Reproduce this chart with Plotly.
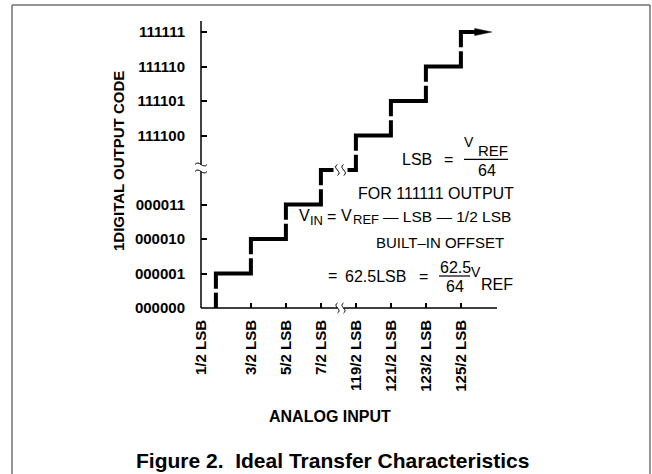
import plotly.graph_objects as go

# ---------------- data ----------------
code_values = [0, 1, 2, 3, 60, 61, 62, 63]
code_labels = ["000000", "000001", "000010", "000011",
               "111100", "111101", "111110", "111111"]
transition_lsb = [0.5, 1.5, 2.5, 3.5, 59.5, 60.5, 61.5, 62.5]
transition_labels = ["1/2 LSB", "3/2 LSB", "5/2 LSB", "7/2 LSB",
                     "119/2 LSB", "121/2 LSB", "123/2 LSB", "125/2 LSB"]

# axis break: codes/inputs between 4 and 59 are collapsed onto one step
BREAK_SKIP = 55


def disp(v):
    """value -> position on the broken display axis"""
    if v <= 4:
        return v
    if v >= 59.5:
        return v - BREAK_SKIP
    return 4


# ---------------- geometry / style ----------------
W, H = 652, 474
L_PX, R_PX, T_PX, B_PX = 201, 497, 21, 308
PW, PH = R_PX - L_PX, B_PX - T_PX
X0_PX, PX_PER_X = 198.4, 35.0
PX_PER_Y = 34.5
XR = [(L_PX - X0_PX) / PX_PER_X, (R_PX - X0_PX) / PX_PER_X]
YR = [0, PH / PX_PER_Y]
FONT = "Liberation Sans, Arial, sans-serif"
LW = 4
RISER_GAP = 0.055       # half gap in each riser (display units)
BREAK_X = 4.06          # display x of the broken step
STEP_GAP = 0.2          # half gap of horizontal at the break
ARROW_EXT = 0.88        # arrow tip beyond last transition
BREAK_Y_PX = 168


def ppx(x):
    return (x - L_PX) / PW


def ppy(y):
    return (B_PX - y) / PH


def d2px(xd):
    return (xd - XR[0]) / (XR[1] - XR[0])


def d2py(yd):
    return (yd - YR[0]) / (YR[1] - YR[0])


# ---------------- staircase ----------------
t_d = [disp(t) for t in transition_lsb]
new_codes = [int(round(t + 0.5)) for t in transition_lsb]
lv_new = [disp(c) for c in new_codes]
lv_prev = [disp(c - 1) for c in new_codes]
mids = [(a + b) / 2 for a, b in zip(lv_prev, lv_new)]

xs, ys = [], []


def add(pts):
    for p in pts:
        xs.append(p[0])
        ys.append(p[1])
    xs.append(None)
    ys.append(None)


add([(t_d[0], lv_prev[0]), (t_d[0], mids[0] - RISER_GAP)])
n = len(t_d)
for i in range(n):
    start = [(t_d[i], mids[i] + RISER_GAP), (t_d[i], lv_new[i])]
    if i < n - 1:
        if transition_lsb[i + 1] - transition_lsb[i] > 1:
            add(start + [(BREAK_X - STEP_GAP, lv_new[i])])
            add([(BREAK_X + STEP_GAP, lv_new[i]), (t_d[i + 1], lv_new[i]),
                 (t_d[i + 1], mids[i + 1] - RISER_GAP)])
        else:
            add(start + [(t_d[i + 1], lv_new[i]),
                         (t_d[i + 1], mids[i + 1] - RISER_GAP)])
    else:
        add(start + [(t_d[i] + ARROW_EXT - 0.35, lv_new[i])])

fig = go.Figure()
fig.add_trace(go.Scatter(x=xs, y=ys, mode="lines",
                         line=dict(color="black", width=LW),
                         hoverinfo="skip", showlegend=False))

# ---------------- shapes ----------------
shapes = []


def line(x0, y0, x1, y1, w=1.5, c="black"):
    shapes.append(dict(type="line", xref="paper", yref="paper",
                       x0=ppx(x0), y0=ppy(y0), x1=ppx(x1), y1=ppy(y1),
                       line=dict(color=c, width=w)))


def vsquig(a=1.6, h=5):
    k = 3.46 * a
    return f"M0,{-h} C{k:.2f},{-h/3:.2f} {-k:.2f},{h/3:.2f} 0,{h}"


def hsquig(a=1.5, w=6):
    k = 3.46 * a
    return f"M{-w},0 C{-w/3:.2f},{k:.2f} {w/3:.2f},{-k:.2f} {w},0"


def squig(path, xp, yp, w=1):
    shapes.append(dict(type="path", xref="paper", yref="paper",
                       xsizemode="pixel", ysizemode="pixel",
                       xanchor=xp, yanchor=yp, path=path,
                       line=dict(color="black", width=w)))


# frame
line(12, 5, 650, 5, 1.5, "#707070")
line(12, 5, 12, 480, 1.5, "#707070")
line(650, 5, 650, 480, 1.5, "#707070")

# y axis with break
line(L_PX, B_PX, L_PX, BREAK_Y_PX + 3.5)
line(L_PX, BREAK_Y_PX - 3.5, L_PX, T_PX)
squig(hsquig(), ppx(L_PX), ppy(BREAK_Y_PX - 3.5))
squig(hsquig(), ppx(L_PX), ppy(BREAK_Y_PX + 3.5))

# x axis with break
bx_px = X0_PX + BREAK_X * PX_PER_X
line(L_PX, B_PX, bx_px - 3, B_PX)
line(bx_px + 3, B_PX, R_PX, B_PX)
squig(vsquig(), ppx(bx_px - 3), ppy(B_PX))
squig(vsquig(), ppx(bx_px + 3), ppy(B_PX))

# squiggles on the broken step
squig(vsquig(1.8, 5.5), d2px(BREAK_X - 0.09), d2py(4))
squig(vsquig(1.8, 5.5), d2px(BREAK_X + 0.09), d2py(4))

# arrow head
shapes.append(dict(type="path", xref="paper", yref="paper",
                   xsizemode="pixel", ysizemode="pixel",
                   xanchor=d2px(t_d[-1] + ARROW_EXT), yanchor=d2py(lv_new[-1]),
                   path="M0,0 L-17,3.6 L-17,-3.6 Z",
                   fillcolor="black", line=dict(color="black", width=0.5)))

# fraction bars
line(464, 159.3, 508, 159.3, 1.2)
line(439, 276, 470, 276, 1.2)

# ---------------- annotations ----------------
ann = []


def txt(s, x, y, size=15, bold=False, xanchor="center", angle=0):
    ann.append(dict(text=s, x=ppx(x), y=ppy(y), xref="paper", yref="paper",
                    showarrow=False, xanchor=xanchor, yanchor="middle",
                    textangle=angle,
                    font=dict(size=size, color="black", family=FONT,
                              weight="bold" if bold else "normal")))


txt("1DIGITAL OUTPUT CODE", 118.5, 161.5, 15, True, angle=-90)
txt("ANALOG INPUT", 330, 416.5, 16, True)
txt("Figure 2.&nbsp; Ideal Transfer Characteristics", 332.5, 461, 21, True)

txt("LSB", 400, 159.3, 16, xanchor="left")
txt("=", 448.5, 159.3, 16)
txt("V", 468.5, 142, 14)
txt("REF", 476, 150, 15, xanchor="left")
txt("64", 486.5, 170, 16)

txt("FOR 111111 OUTPUT", 436, 194, 16)

txt("V", 304, 215.3, 16)
txt("IN", 308, 220.5, 13, xanchor="left")
txt("=", 331, 216, 16)
txt("V", 346, 215.3, 16)
txt("REF", 350.5, 219.7, 13, xanchor="left")
txt("— LSB — 1/2 LSB", 381, 216, 15.5, xanchor="left")

txt("BUILT–IN OFFSET", 439.5, 242.7, 15)

txt("=", 332.5, 275.5, 16)
txt("62.5LSB", 343, 276, 16, xanchor="left")
txt("=", 423, 276, 16)
txt("62.5", 455, 267.5, 16)
txt("64", 455, 286, 16)
txt("V", 475.5, 272, 14)
txt("REF", 479, 284, 16, xanchor="left")

# x tick positions: first label sits under the y axis in the original
x_tickvals = [XR[0]] + t_d[1:]
y_tickvals = [disp(c) for c in code_values]

fig.update_layout(
    width=W, height=H,
    margin=dict(l=L_PX, r=W - R_PX, t=T_PX, b=H - B_PX, pad=0),
    paper_bgcolor="white", plot_bgcolor="white",
    font=dict(family=FONT, color="black"),
    shapes=shapes, annotations=ann,
    xaxis=dict(range=XR, showgrid=False, zeroline=False, showline=False,
               tickmode="array", tickvals=x_tickvals, ticktext=transition_labels,
               tickangle=-90, ticks="inside", ticklen=5, tickwidth=1.5,
               tickcolor="black", ticklabelstandoff=8,
               tickfont=dict(size=15, family=FONT, weight="bold", color="black"),
               fixedrange=True),
    yaxis=dict(range=YR, showgrid=False, zeroline=False, showline=False,
               tickmode="array", tickvals=y_tickvals, ticktext=code_labels,
               ticks="inside", ticklen=6, tickwidth=1.5, tickcolor="black",
               ticklabelstandoff=15,
               tickfont=dict(size=15, family=FONT, weight="bold", color="black"),
               fixedrange=True),
    showlegend=False,
)

fig.write_html("out.html", config={"displayModeBar": False},
               post_script="document.body.style.margin='0';"
                           "document.body.style.padding='0';"
                           "document.body.style.overflow='hidden';")
